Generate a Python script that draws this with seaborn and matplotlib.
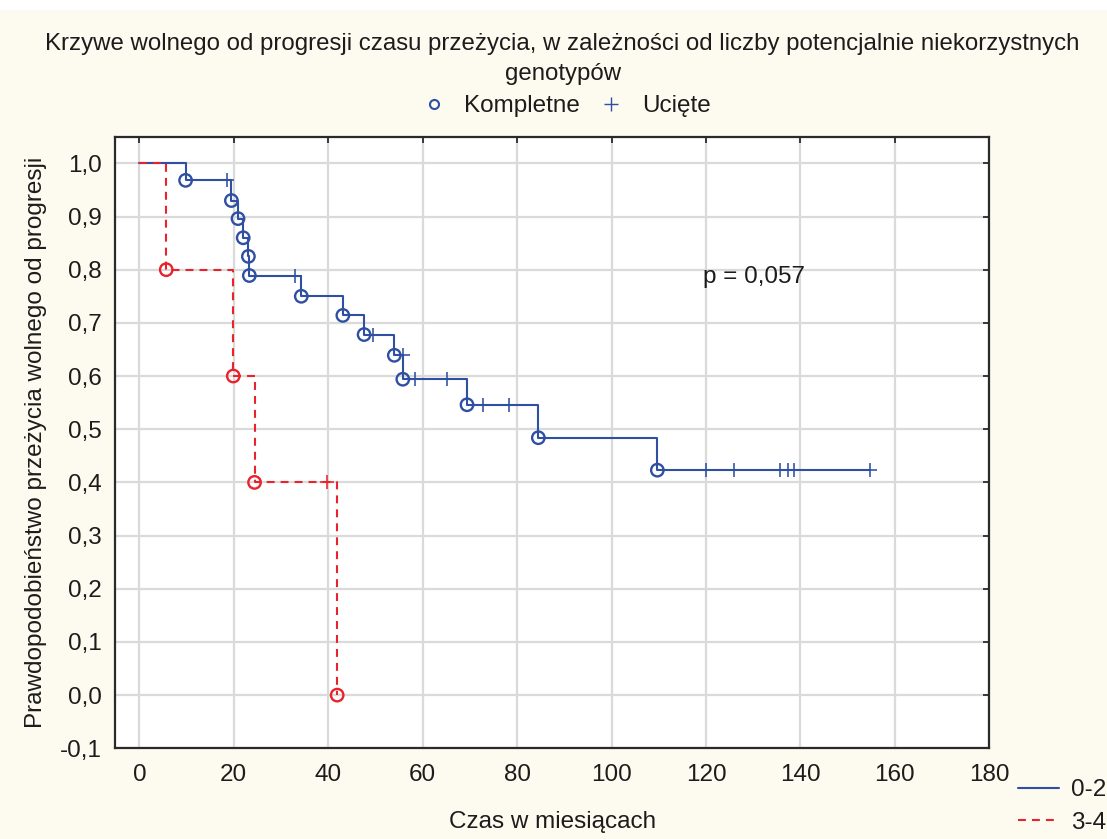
import numpy as np
import pandas as pd
import matplotlib
matplotlib.use("Agg")
import matplotlib.pyplot as plt
import seaborn as sns
from matplotlib.lines import Line2D
from matplotlib.patches import Rectangle
from matplotlib.ticker import FuncFormatter, FixedLocator

# ---------------- data ----------------
group_labels = ["0-2", "3-4"]

blue_event_times = [9.8, 19.5, 20.9, 22.0, 23.1, 23.3, 34.3, 43.1, 47.6, 54.0, 55.8, 69.4, 84.5, 109.7]
blue_event_surv = [0.968, 0.930, 0.896, 0.860, 0.825, 0.789, 0.750, 0.714, 0.678, 0.639, 0.594, 0.546, 0.484, 0.423]
blue_censor_times = [18.5, 33.0, 49.4, 55.8, 58.4, 65.1, 72.8, 78.3, 119.9, 125.9, 135.6, 137.3, 138.7, 154.8]

red_event_times = [5.7, 19.9, 24.4, 41.9]
red_event_surv = [0.8, 0.6, 0.4, 0.0]
red_censor_times = [39.8]

x_ticks = [0, 20, 40, 60, 80, 100, 120, 140, 160, 180]
y_ticks = [-0.1, 0.0, 0.1, 0.2, 0.3, 0.4, 0.5, 0.6, 0.7, 0.8, 0.9, 1.0]

title_line1 = "Krzywe wolnego od progresji czasu przeżycia, w zależności od liczby potencjalnie niekorzystnych"
title_line2 = "genotypów"
marker_labels = ["Kompletne", "Ucięte"]
x_label = "Czas w miesiącach"
y_label = "Prawdopodobieństwo przeżycia wolnego od progresji"
p_text = "p = 0,057"

# ---------------- style ----------------
sns.set_style("white")
plt.rcParams["font.family"] = ["Liberation Sans", "DejaVu Sans"]
FS = 17.5
FS_TITLE = 17.3
BLUE = "#2f4fa2"
RED = "#e8232b"
CREAM = "#fdfaef"
TXT = "#1c1c1c"

W, H = 1107, 839
fig = plt.figure(figsize=(W / 100, H / 100), dpi=100, facecolor=CREAM)
fig.patches.append(Rectangle((0, 1 - 10 / H), 1, 10 / H, transform=fig.transFigure,
                             facecolor="white", edgecolor="none", zorder=0))

ax = fig.add_axes([115 / W, 1 - 748.3 / H, (989.3 - 115) / W, (748.3 - 137) / H])
ax.set_facecolor("white")


def km_frame(ev_t, ev_s, cen_t):
    end = max(max(ev_t), max(cen_t))
    t = [0.0] + list(ev_t) + [end]
    s = [1.0] + list(ev_s) + [ev_s[-1]]
    return pd.DataFrame({"t": t, "s": s})


def censor_frame(ev_t, ev_s, cen_t):
    surv = np.concatenate([[1.0], ev_s])
    idx = np.searchsorted(np.asarray(ev_t), np.asarray(cen_t), side="left")
    return pd.DataFrame({"t": cen_t, "s": surv[idx]})


blue_steps = km_frame(blue_event_times, blue_event_surv, blue_censor_times)
red_steps = km_frame(red_event_times, red_event_surv, red_censor_times)
blue_ev = pd.DataFrame({"t": blue_event_times, "s": blue_event_surv})
red_ev = pd.DataFrame({"t": red_event_times, "s": red_event_surv})
blue_cen = censor_frame(blue_event_times, blue_event_surv, blue_censor_times)
red_cen = censor_frame(red_event_times, red_event_surv, red_censor_times)

LW = 1.5
sns.lineplot(data=blue_steps, x="t", y="s", estimator=None, sort=False, drawstyle="steps-post",
             color=BLUE, linewidth=LW, ax=ax, zorder=3)
sns.lineplot(data=red_steps, x="t", y="s", estimator=None, sort=False, drawstyle="steps-post",
             color=RED, linewidth=LW, linestyle=(0, (3.8, 2.9)), ax=ax, zorder=4)

for ev, cen, c in [(blue_ev, blue_cen, BLUE), (red_ev, red_cen, RED)]:
    sns.scatterplot(data=ev, x="t", y="s", marker="o", s=80, facecolor="none", edgecolor=c,
                    linewidth=1.7, color=c, ax=ax, zorder=5)
    sns.scatterplot(data=cen, x="t", y="s", marker="+", s=115, color=c, linewidth=1.15, ax=ax, zorder=5)

ax.set_xlim(-5.15, 180)
ax.set_ylim(-0.1, 1.0495)
ax.xaxis.set_major_locator(FixedLocator(x_ticks))
ax.yaxis.set_major_locator(FixedLocator(y_ticks))
ax.xaxis.set_major_formatter(FuncFormatter(lambda v, p: f"{v:.0f}"))
ax.yaxis.set_major_formatter(FuncFormatter(lambda v, p: f"{v:.1f}".replace(".", ",").replace("-0,0", "0,0")))

ax.grid(True, color="#dadada", linewidth=1.6)
ax.set_axisbelow(True)
for sp in ax.spines.values():
    sp.set_color("#2a2a2a")
    sp.set_linewidth(1.6)
ax.tick_params(direction="in", length=4, width=1.3, color="#2a2a2a", top=True, right=True,
               labelsize=FS, labelcolor=TXT)
ax.tick_params(axis="x", pad=11)
ax.tick_params(axis="y", pad=9.5)

ax.set_xlabel(x_label, fontsize=FS, color=TXT, labelpad=18)
ax.set_ylabel(y_label, fontsize=FS, color=TXT, labelpad=9)

ax.text(119.3, 0.7743, p_text, fontsize=FS, color=TXT, ha="left", va="baseline")

fig.text(562 / W, 1 - 50 / H, title_line1, fontsize=FS_TITLE, color=TXT, ha="center", va="baseline")
fig.text(563 / W, 1 - 80 / H, title_line2, fontsize=FS_TITLE, color=TXT, ha="center", va="baseline")

top_handles = [
    Line2D([], [], linestyle="none", marker="o", markersize=6.5, markerfacecolor="none",
           markeredgecolor=BLUE, markeredgewidth=1.5),
    Line2D([], [], linestyle="none", marker="+", markersize=9.5, color=BLUE, markeredgewidth=1.0),
]
fig.legend(top_handles, marker_labels, loc="center", bbox_to_anchor=(566 / W, 1 - 106 / H),
           ncol=2, frameon=False, fontsize=FS, handlelength=1.0, handletextpad=0.75,
           columnspacing=0.8, borderpad=0, labelcolor=TXT)

grp_handles = [
    Line2D([], [], color=BLUE, linewidth=LW),
    Line2D([], [], color=RED, linewidth=LW, linestyle=(0, (3.8, 2.9))),
]
fig.legend(grp_handles, group_labels, loc="upper left", bbox_to_anchor=(1018 / W, 1 - 779 / H),
           frameon=False, fontsize=FS, handlelength=1.67, handletextpad=0.5, labelspacing=0.45,
           borderpad=0, borderaxespad=0, labelcolor=TXT)

fig.savefig("out.png", dpi=100, facecolor=CREAM)
